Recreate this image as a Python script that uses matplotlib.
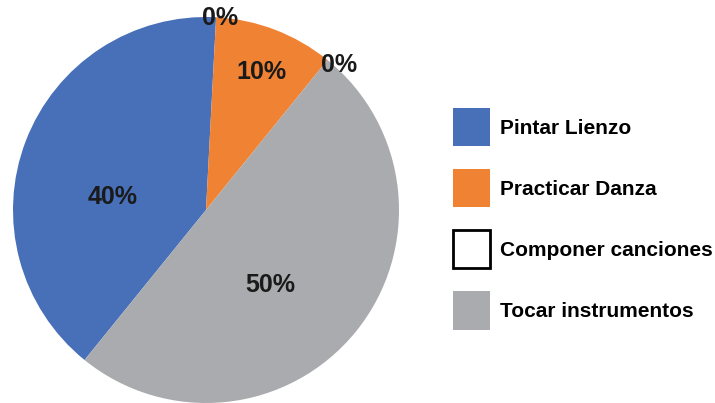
import matplotlib
matplotlib.use("Agg")
import matplotlib.pyplot as plt
import numpy as np
from matplotlib.patches import Patch

names = ["Pintar Lienzo", "", "Practicar Danza", "Componer canciones", "Tocar instrumentos"]
values = [40, 0, 10, 0, 50]
colors = ["#4770B9", "#FFFFFF", "#F08233", "#FFFFFF", "#AAABAE"]
# label placement (style): radial fraction and angular nudge in degrees
label_r = [0.487, 0.997, 0.77, 1.02, 0.51]
label_shift = [13, -1.2, -1, -3.7, -10.5]

plt.rcParams['font.family'] = ['Liberation Sans', 'DejaVu Sans']

fig = plt.figure(figsize=(7.15, 4.03), dpi=100)
ax = fig.add_axes([13/715, 0.0, 386/715, 386/403])
wedges, _ = ax.pie(values, colors=colors, startangle=231, counterclock=False,
                   wedgeprops=dict(linewidth=0), radius=1.0)
ax.set_xlim(-1, 1)
ax.set_ylim(-1, 1)
ax.set_aspect('equal')

for w, v, r, s in zip(wedges, values, label_r, label_shift):
    mid = (w.theta1 + w.theta2) / 2
    a = np.deg2rad(mid + s)
    ax.text(r * np.cos(a), r * np.sin(a), f"{v}%", ha='center', va='center',
            fontsize=18, fontweight='bold', color='#1a1a1a', clip_on=False)

handles = []
for n, c in zip(names, colors):
    if not n:
        continue
    if c == "#FFFFFF":
        handles.append(Patch(facecolor='white', edgecolor='black', linewidth=2, label=n))
    else:
        handles.append(Patch(facecolor=c, edgecolor=c, linewidth=0, label=n))

fs = 15
fpx = fs * 100 / 72
leg = fig.legend(handles=handles, loc='upper left', bbox_to_anchor=(453/715, 1 - 108/403),
                 frameon=False, prop=dict(weight='bold', size=fs),
                 handlelength=37/fpx, handleheight=2.45, handletextpad=10/fpx,
                 labelspacing=22.8/fpx, borderaxespad=0, borderpad=0)

fig.savefig("out.png", dpi=100)
